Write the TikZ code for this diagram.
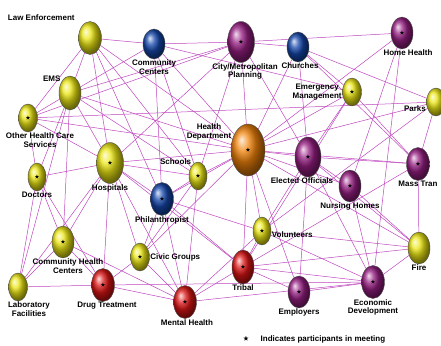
\documentclass[tikz,border=0pt]{standalone}
\usepackage{amssymb}
\usepackage{fontspec}
\setmainfont{Liberation Sans}
\usetikzlibrary{shapes.geometric,backgrounds}

\definecolor{linkpink}{RGB}{190,70,190}
\definecolor{ballyellow}{RGB}{235,230,20}
\definecolor{ballblue}{RGB}{20,70,170}
\definecolor{ballpurple}{RGB}{150,30,130}
\definecolor{ballred}{RGB}{220,20,20}
\definecolor{ballorange}{RGB}{240,130,10}

\newcommand\tagfont{\fontsize{8}{8.5}\selectfont\bfseries}

\tikzset{
  ball/.style={ellipse, draw=black!70, line width=0.4pt, inner sep=0pt,
    minimum width=23pt, minimum height=33pt},
  yball/.style={ball, ball color=ballyellow},
  bball/.style={ball, ball color=ballblue},
  pball/.style={ball, ball color=ballpurple},
  rball/.style={ball, ball color=ballred},
  oball/.style={ball, ball color=ballorange},
  small/.style={minimum width=19pt, minimum height=28pt},
  big/.style={minimum width=27pt, minimum height=41pt},
  tag/.style={font=\tagfont, align=center, inner sep=0.5pt, text=black},
  part/.style={label={[font=\fontsize{5}{5}\selectfont, inner sep=0pt]center:$\bigstar$}},
  link/.style={draw=linkpink, line width=0.5pt}
}

\begin{document}
\begin{tikzpicture}[x=1pt, y=-1pt]
\useasboundingbox ( 0, 0 ) rectangle ( 441, 345 );

% Top row
\node (law) at ( 90, 38 ) [yball,
  label={[tag, label distance=3pt, yshift=5pt, xshift=-3pt]135:Law Enforcement}] {};
\node (ctr) at ( 154, 44 ) [bball, minimum width=22pt, minimum height=30pt,
  label={[tag]below:Community\\Centers}] {};
\node (plan) at ( 241, 42 ) [pball, big, part,
  label={[tag, xshift=4pt]below:City/Metropolitan\\Planning}] {};
\node (church) at ( 298, 47 ) [bball, minimum width=22pt, minimum height=30pt,
  label={[tag, xshift=2pt]below:Churches}] {};
\node (home) at ( 402, 33 ) [pball, minimum width=22pt, minimum height=32pt, part,
  label={[tag, xshift=6pt]below:Home Health}] {};

% Upper middle
\node (emerg) at ( 352, 92 ) [yball, small, part,
  label={[tag]left:Emergency\\Management}] {};
\node (parks) at ( 436, 102 ) [yball, small, label={[tag]200:Parks}] {};
\node (ems) at ( 70, 93 ) [yball, minimum width=22pt, minimum height=34pt,
  label={[tag]130:EMS}] {};
\node (other) at ( 28, 118 ) [yball, small, part,
  label={[tag, xshift=12pt]below:Other Health Care\\Services}] {};
\node (health) at ( 248, 150 ) [oball, minimum width=34pt, minimum height=52pt, part,
  label={[tag]150:Health\\Department}] {};
\node (school) at ( 198, 176 ) [yball, minimum width=18pt, minimum height=28pt, part,
  label={[tag]120:Schools}] {};
\node (hosp) at ( 110, 163 ) [yball, big, part, label={[tag]below:Hospitals}] {};
\node (doc) at ( 37, 177 ) [yball, minimum width=18pt, minimum height=28pt, part,
  label={[tag]below:Doctors}] {};
\node (phil) at ( 162, 199 ) [bball, part, label={[tag]below:Philanthropist}] {};
\node (elect) at ( 308, 157 ) [pball, minimum width=26pt, minimum height=40pt, part,
  label={[tag, xshift=-6pt]below:Elected Officials}] {};
\node (nurse) at ( 350, 186 ) [pball, minimum width=22pt, minimum height=32pt, part,
  label={[tag]below:Nursing Homes}] {};
\node (mass) at ( 418, 164 ) [pball, part, label={[tag]below:Mass Tran}] {};

% Lower part
\node (vol) at ( 262, 231 ) [yball, minimum width=18pt, minimum height=28pt, part,
  label={[tag, yshift=-4pt]right:Volunteers}] {};
\node (chc) at ( 63, 242 ) [yball, minimum width=22pt, minimum height=32pt, part,
  label={[tag, xshift=5pt]below:Community Health\\Centers}] {};
\node (civic) at ( 140, 257 ) [yball, small, part, label={[tag]right:Civic Groups}] {};
\node (fire) at ( 419, 248 ) [yball, minimum width=22pt, minimum height=32pt,
  label={[tag]below:Fire}] {};
\node (tribal) at ( 243, 267 ) [rball, minimum width=22pt, minimum height=34pt, part,
  label={[tag]below:Tribal}] {};
\node (lab) at ( 18, 287 ) [yball, small,
  label={[tag, xshift=11pt]below:Laboratory\\Facilities}] {};
\node (drug) at ( 103, 285 ) [rball, part, label={[tag, xshift=4pt]below:Drug Treatment}] {};
\node (mental) at ( 185, 302 ) [rball, part, label={[tag, xshift=2pt]below:Mental Health}] {};
\node (employ) at ( 299, 292 ) [pball, minimum width=22pt, minimum height=32pt, part,
  label={[tag]below:Employers}] {};
\node (econ) at ( 373, 282 ) [pball, part, label={[tag]below:Economic\\Development}] {};

% Legend
\node (key) at ( 246, 339 ) [font=\fontsize{6}{6}\selectfont] {$\bigstar$};
\node (keytext) at ( 260, 339 ) [tag, anchor=west] {Indicates participants in meeting};

% Links
\begin{scope}[on background layer]
\path [link] (law) edge (ctr) edge (ems) edge (hosp) edge (school) edge (health)
  edge (phil) edge (other);
\path [link] (ctr) edge (ems) edge (plan) edge (phil) edge (school) edge (health)
  edge (emerg);
\path [link] (plan) edge (home) edge (church) edge (health) edge (elect) edge (hosp)
  edge (other) edge (school) edge (ems);
\path [link] (church) edge (elect) edge (parks) edge (mass) edge (health) edge (emerg);
\path [link] (home) edge (health) edge (econ) edge (nurse);
\path [link] (emerg) edge (health) edge (elect) edge (mass) edge (tribal);
\path [link] (parks) edge (health) edge (other) edge (mass) edge (vol);
\path [link] (ems) edge (hosp) edge (chc) edge (doc) edge (school) edge (health)
  edge (lab);
\path [link] (other) edge (hosp) edge (doc) edge (health) edge (ems);
\path [link] (school) edge (hosp) edge (phil) edge (health) edge (civic) edge (mental);
\path [link] (hosp) edge (doc) edge (chc) edge (lab) edge (drug) edge (civic)
  edge (phil) edge (mental) edge (health) edge (tribal);
\path [link] (doc) edge (lab) edge (chc) edge (drug);
\path [link] (phil) edge (civic) edge (mental) edge (tribal) edge (health) edge (vol);
\path [link] (elect) edge (health) edge (mass) edge (nurse) edge (econ) edge (vol)
  edge (employ) edge (fire);
\path [link] (nurse) edge (fire) edge (econ) edge (health);
\path [link] (mass) edge (fire) edge (health) edge (tribal);
\path [link] (vol) edge (fire) edge (econ) edge (tribal) edge (mental) edge (health);
\path [link] (chc) edge (lab) edge (drug) edge (mental);
\path [link] (civic) edge (mental) edge (drug) edge (health);
\path [link] (lab) edge (drug);
\path [link] (drug) edge (mental) edge (econ);
\path [link] (mental) edge (tribal) edge (econ);
\path [link] (fire) edge (econ) edge (tribal) edge (health);
\path [link] (tribal) edge (econ) edge (employ) edge (health);
\path [link] (employ) edge (econ) edge (health);
\end{scope}

\end{tikzpicture}
\end{document}
